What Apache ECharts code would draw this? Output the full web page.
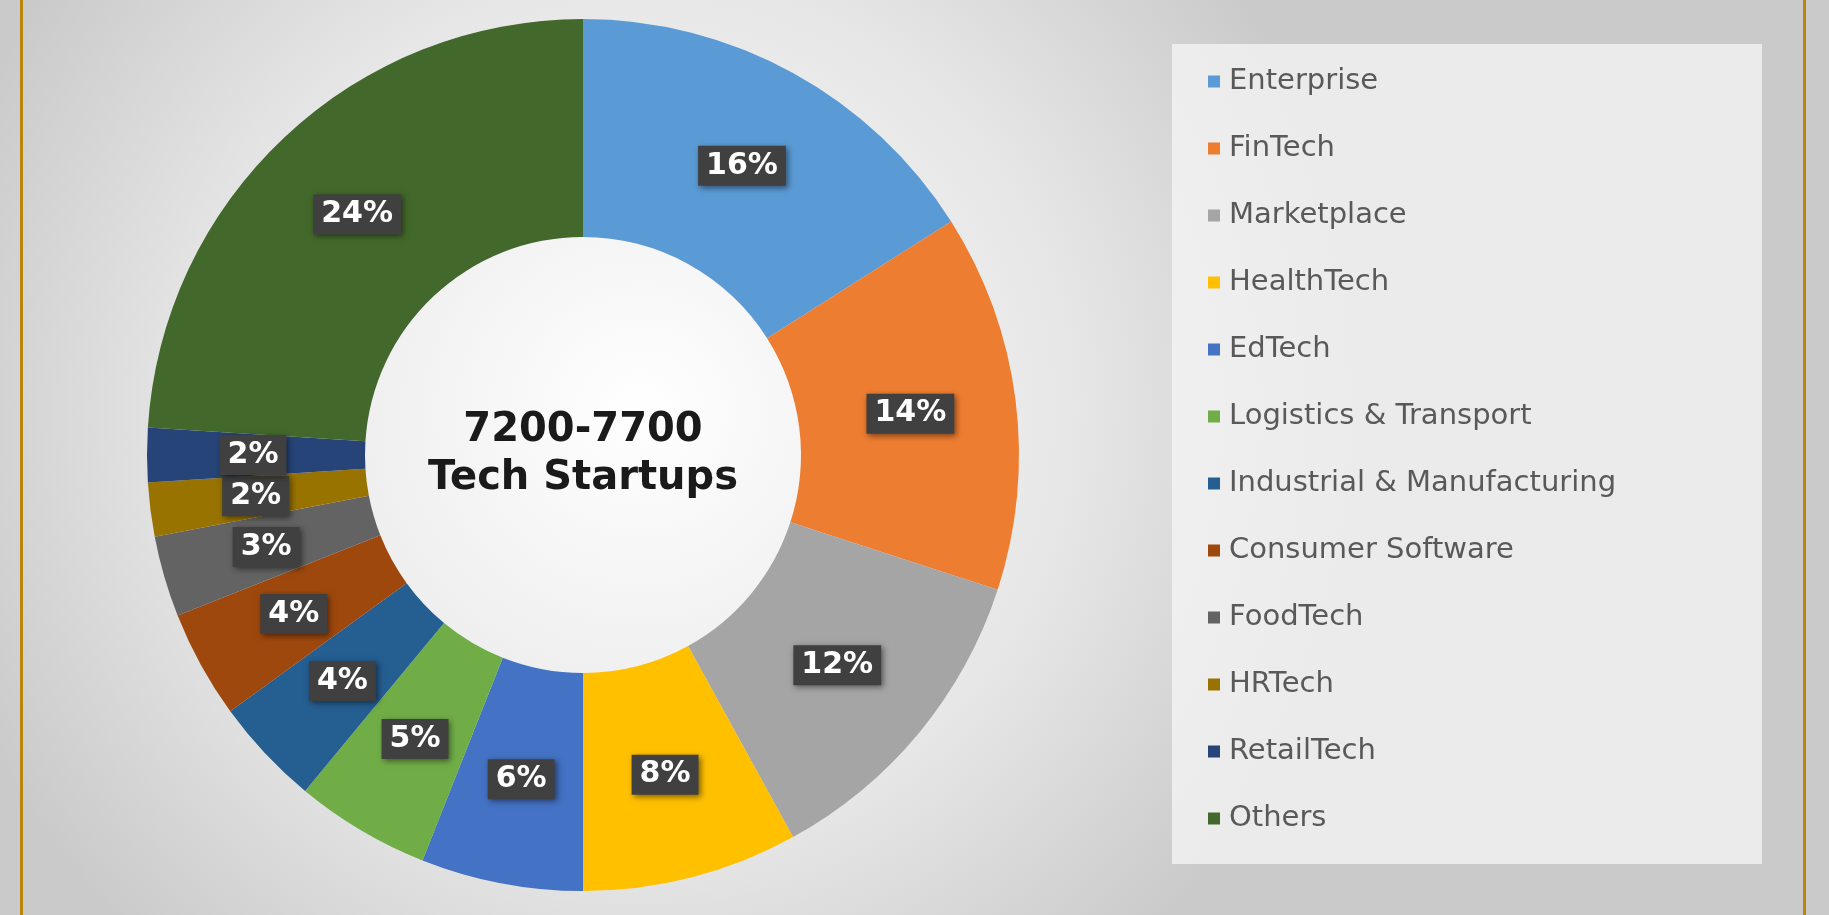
<!DOCTYPE html>
<html>
<head>
<meta charset="utf-8">
<script src="https://cdn.jsdelivr.net/npm/echarts@6/dist/echarts.min.js"></script>
<style>
  html, body { margin: 0; padding: 0; }
  #chart { width: 1829px; height: 915px; }
</style>
</head>
<body>
<div id="chart"></div>
<script>
const categories = ["Enterprise", "FinTech", "Marketplace", "HealthTech", "EdTech", "Logistics & Transport",
  "Industrial & Manufacturing", "Consumer Software", "FoodTech", "HRTech", "RetailTech", "Others"];
const shares = [16, 14, 12, 8, 6, 5, 4, 4, 3, 2, 2, 24];
const colors = ["#5B9BD5", "#ED7D31", "#A5A5A5", "#FFC000", "#4472C4", "#70AD47",
  "#255E91", "#9E480E", "#636363", "#997300", "#264478", "#43682B"];
const centerText = "7200-7700\nTech Startups";

const chartDom = document.getElementById("chart");
const myChart = echarts.init(chartDom);
const option = {
  backgroundColor: {
    type: "radial", x: 0.35, y: 0.45, r: 0.8,
    colorStops: [
      { offset: 0, color: "#ffffff" },
      { offset: 0.6, color: "#e6e6e6" },
      { offset: 1, color: "#cacaca" },
    ],
  },
  graphic: [
    { type: "rect", shape: { x: 20, y: 0, width: 3, height: 915 }, style: { fill: "#b8860b" }, z: 0 },
    { type: "rect", shape: { x: 1803, y: 0, width: 3, height: 915 }, style: { fill: "#b8860b" }, z: 0 },
    { type: "rect", shape: { x: 1172, y: 44, width: 590, height: 820 }, style: { fill: "rgba(245,245,245,0.75)" }, z: 0 },
    {
      type: "text", z: 10,
      style: {
        text: centerText, x: 583, y: 455, align: "center", verticalAlign: "middle",
        font: "bold 40px 'DejaVu Sans'", fill: "#1a1a1a", lineHeight: 48,
      },
    },
  ],
  legend: {
    orient: "vertical",
    left: 1203,
    top: 62,
    itemWidth: 12,
    itemHeight: 12,
    itemGap: 38,
    icon: "rect",
    textStyle: { fontSize: 29, color: "#595959", fontFamily: "DejaVu Sans", padding: [0, 0, 0, 4] },
    data: categories,
  },
  series: [
    {
      type: "pie",
      center: [583, 455],
      radius: [218, 436],
      startAngle: 90,
      clockwise: true,
      silent: true,
      data: categories.map((name, i) => ({
        name: name,
        value: shares[i],
        itemStyle: { color: colors[i] },
      })),
      label: {
        position: "inside",
        formatter: "{c}%",
        color: "#ffffff",
        fontWeight: "bold",
        fontSize: 30,
        fontFamily: "DejaVu Sans",
        backgroundColor: "#404040",
        padding: [5, 8],
        shadowBlur: 6,
        shadowColor: "rgba(0,0,0,0.5)",
        shadowOffsetX: 2,
        shadowOffsetY: 2,
      },
      labelLine: { show: false },
    },
  ],
};
myChart.setOption(option);
</script>
</body>
</html>
